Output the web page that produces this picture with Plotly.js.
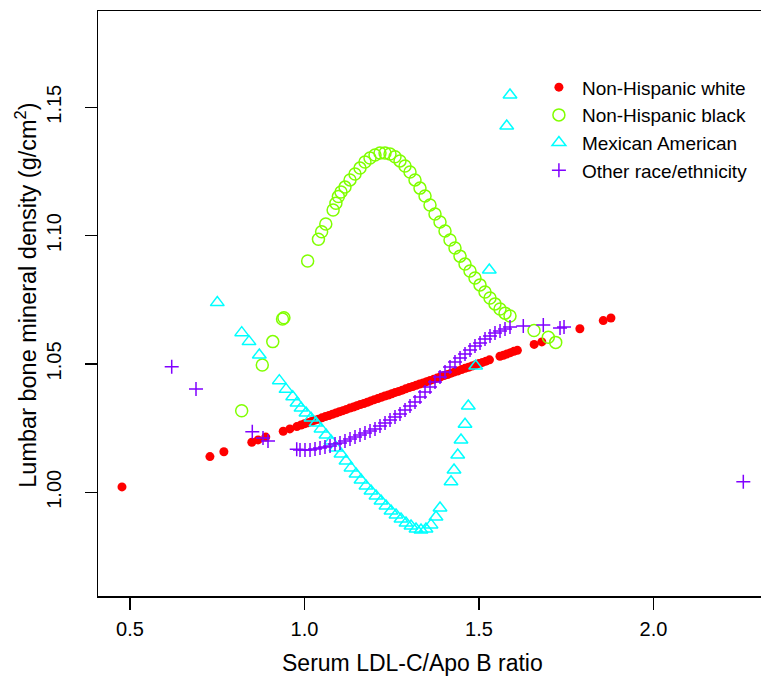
<!DOCTYPE html>
<html>
<head>
<meta charset="utf-8">
<script src="https://cdn.plot.ly/plotly-3.0.1.min.js"></script>
<style>html,body{margin:0;padding:0;background:#fff;}#chart{width:761px;height:678px;}</style>
</head>
<body>
<div id="chart"></div>
<script>
// Non-Hispanic white
const whiteX = [0.477, 0.729, 0.769, 0.849, 0.867, 0.889, 0.939, 0.958, 0.978,
  0.99, 1.00, 1.01, 1.02, 1.03, 1.04, 1.05, 1.06, 1.07, 1.08, 1.09, 1.10, 1.11, 1.12, 1.13, 1.14, 1.15,
  1.16, 1.17, 1.18, 1.19, 1.20, 1.21, 1.22, 1.23, 1.24, 1.25, 1.26, 1.27, 1.28, 1.29, 1.30, 1.31, 1.32,
  1.33, 1.34, 1.35, 1.36, 1.37, 1.38, 1.39, 1.40, 1.41, 1.42, 1.43, 1.44, 1.45, 1.46, 1.47, 1.48, 1.49,
  1.50, 1.51, 1.52, 1.53, 1.56, 1.57, 1.58, 1.59, 1.60, 1.61,
  1.658, 1.680, 1.789, 1.856, 1.878];
const whiteY = [1.0021, 1.0139, 1.0158, 1.0195, 1.0204, 1.0215, 1.0238, 1.0247, 1.0256,
  1.0262, 1.0267, 1.0271, 1.0276, 1.0281, 1.0285, 1.0290, 1.0295, 1.0299, 1.0304, 1.0309, 1.0314, 1.0318, 1.0323, 1.0328, 1.0332, 1.0337,
  1.0342, 1.0346, 1.0351, 1.0356, 1.0361, 1.0365, 1.0370, 1.0375, 1.0379, 1.0384, 1.0389, 1.0393, 1.0398, 1.0403, 1.0408, 1.0412, 1.0417,
  1.0422, 1.0426, 1.0431, 1.0436, 1.0440, 1.0445, 1.0450, 1.0455, 1.0459, 1.0464, 1.0469, 1.0473, 1.0478, 1.0483, 1.0487, 1.0492, 1.0497,
  1.0502, 1.0506, 1.0511, 1.0516, 1.0530, 1.0534, 1.0539, 1.0544, 1.0549, 1.0553,
  1.0576, 1.0586, 1.0637, 1.0669, 1.0679];

// Non-Hispanic black
const blackX = [0.820, 0.879, 0.909, 0.937, 0.941, 1.009, 1.040, 1.049, 1.061, 1.082, 1.090, 1.097, 1.1046,
  1.1160, 1.1304, 1.1447, 1.1590, 1.1733, 1.1877, 1.2020, 1.2163, 1.2307, 1.2450, 1.2593, 1.2736, 1.2880,
  1.3023, 1.3166, 1.3309, 1.3453, 1.3596, 1.3739, 1.3883, 1.4026, 1.4169, 1.4312, 1.4456, 1.4599, 1.4742,
  1.4885, 1.5029, 1.5172, 1.5315, 1.5458, 1.5602, 1.5745, 1.5888,
  1.6576, 1.6986, 1.7198];
const blackY = [1.0318, 1.0496, 1.0587, 1.0675, 1.0680, 1.0901, 1.0986, 1.1015, 1.1045, 1.1100, 1.1126, 1.1152, 1.1170,
  1.1189, 1.1217, 1.1240, 1.1263, 1.1287, 1.1302, 1.1314, 1.1322, 1.1322, 1.1318, 1.1307, 1.1291, 1.1271,
  1.1248, 1.1217, 1.1185, 1.1154, 1.1119, 1.1084, 1.1053, 1.1018, 1.0983, 1.0952, 1.0920, 1.0889, 1.0862,
  1.0835, 1.0808, 1.0780, 1.0757, 1.0734, 1.0714, 1.0698, 1.0687,
  1.0630, 1.0604, 1.0584];

// Mexican American
const mexX = [0.7501, 0.8201, 0.8410, 0.8705, 0.9278, 0.9470, 0.9662,
  0.9785, 0.9900, 1.0043, 1.0186, 1.0330, 1.0473, 1.0616, 1.0759, 1.0903, 1.1046, 1.1189, 1.1332, 1.1476,
  1.1619, 1.1762, 1.1905, 1.2049, 1.2192, 1.2335, 1.2479, 1.2622, 1.2765, 1.2908, 1.3052, 1.3195, 1.3338,
  1.3481, 1.3625, 1.3768, 1.3883,
  1.4198, 1.4284, 1.4390, 1.4484, 1.4599, 1.4693, 1.4905, 1.5295, 1.5794, 1.5888];
const mexY = [1.0739, 1.0622, 1.0587, 1.0535, 1.0435, 1.0401, 1.0372,
  1.0348, 1.0328, 1.0309, 1.0289, 1.0270, 1.0247, 1.0223, 1.0200, 1.0173, 1.0149, 1.0122, 1.0095, 1.0071,
  1.0048, 1.0025, 1.0005, 0.9986, 0.9966, 0.9947, 0.9927, 0.9912, 0.9896, 0.9880, 0.9869, 0.9857, 0.9853,
  0.9857, 0.9873, 0.9904, 0.9939,
  1.0041, 1.0087, 1.0145, 1.0204, 1.0265, 1.0336, 1.0492, 1.0866, 1.1427, 1.1548];

// Other race/ethnicity
const otherX = [0.6195, 0.6891, 0.8504, 0.8811, 0.8954, 0.9777,
  0.9871, 1.0014, 1.0158, 1.0301, 1.0444, 1.0587, 1.0731, 1.0874, 1.1017, 1.1160, 1.1304, 1.1447, 1.1590,
  1.1733, 1.1877, 1.2020, 1.2163, 1.2307, 1.2450, 1.2593, 1.2736, 1.2880, 1.3023, 1.3166, 1.3309, 1.3453,
  1.3596, 1.3739, 1.3883, 1.4026, 1.4169, 1.4312, 1.4456, 1.4599, 1.4742, 1.4885, 1.5029, 1.5172, 1.5315,
  1.5458, 1.5602, 1.5745, 1.5888,
  1.6269, 1.6842, 1.7321, 1.7436, 2.2573];
const otherY = [1.0489, 1.0402, 1.0236, 1.0212, 1.0200, 1.0168,
  1.0165, 1.0165, 1.0165, 1.0169, 1.0173, 1.0176, 1.0180, 1.0188, 1.0192, 1.0200, 1.0208, 1.0215, 1.0223,
  1.0231, 1.0239, 1.0247, 1.0258, 1.0270, 1.0282, 1.0293, 1.0305, 1.0321, 1.0336, 1.0352, 1.0371, 1.0391,
  1.0410, 1.0430, 1.0449, 1.0469, 1.0488, 1.0508, 1.0523, 1.0539, 1.0554, 1.0570, 1.0582, 1.0597, 1.0609,
  1.0621, 1.0628, 1.0636, 1.0644,
  1.0648, 1.0652, 1.0640, 1.0644, 1.0041];

const seriesNames = ["Non-Hispanic white", "Non-Hispanic black", "Mexican American", "Other race/ethnicity"];
const xTicks = [0.5, 1.0, 1.5, 2.0];
const yTicks = [1.00, 1.05, 1.10, 1.15];
const xTitle = "Serum LDL-C/Apo B ratio";
const yTitle = "Lumbar bone mineral density (g/cm<sup>2</sup>)";

const FONT = "Liberation Sans, Arial, Helvetica, sans-serif";

const traces = [
  {x: whiteX, y: whiteY, name: seriesNames[0], type: "scatter", mode: "markers",
   marker: {symbol: "circle", size: 9, color: "#FF0000", line: {width: 0}}},
  {x: blackX, y: blackY, name: seriesNames[1], type: "scatter", mode: "markers",
   marker: {symbol: "circle-open", size: 12, color: "#80FF00", line: {width: 1.5, color: "#80FF00"}}},
  {x: mexX, y: mexY, name: seriesNames[2], type: "scatter", mode: "markers",
   marker: {symbol: "triangle-up-open", size: 12, color: "#00FFFF", line: {width: 1.5, color: "#00FFFF"}}},
  {x: otherX, y: otherY, name: seriesNames[3], type: "scatter", mode: "markers",
   marker: {symbol: "cross-thin-open", size: 10, color: "#8000FF", line: {width: 1.5, color: "#8000FF"}}}
];

const layout = {
  width: 761, height: 678,
  margin: {l: 98, r: 0, t: 11, b: 82, pad: 0},
  paper_bgcolor: "#ffffff", plot_bgcolor: "#ffffff",
  font: {family: FONT, color: "#000000", size: 20},
  showlegend: true,
  legend: {x: 0.6605, xanchor: "left", y: 0.902, yanchor: "top", itemwidth: 36,
    bgcolor: "rgba(0,0,0,0)", borderwidth: 0, font: {family: FONT, size: 19, color: "#000"}},
  xaxis: {
    range: [0.4083, 2.308], tickvals: xTicks, tickformat: ".1f",
    ticks: "outside", ticklen: 12, tickwidth: 1.5, tickcolor: "#000",
    showline: true, linewidth: 1.5, linecolor: "#000", mirror: true,
    showgrid: false, zeroline: false, ticklabelstandoff: 2,
    tickfont: {family: FONT, size: 20, color: "#000"}
  },
  yaxis: {
    range: [0.9596, 1.1875], tickvals: yTicks, tickformat: ".2f", tickangle: -90,
    ticks: "outside", ticklen: 12, tickwidth: 1.5, tickcolor: "#000",
    showline: true, linewidth: 1.5, linecolor: "#000", mirror: false,
    showgrid: false, zeroline: false, ticklabelstandoff: 16,
    tickfont: {family: FONT, size: 20, color: "#000"}
  },
  annotations: [
    {text: xTitle, xref: "paper", yref: "paper", x: 0.4751, y: -0.1145,
     xanchor: "center", yanchor: "middle", showarrow: false,
     font: {family: FONT, size: 23, color: "#000"}},
    {text: yTitle, xref: "paper", yref: "paper", x: -0.1086, y: 0.515, textangle: -90,
     xanchor: "center", yanchor: "middle", showarrow: false,
     font: {family: FONT, size: 23.5, color: "#000"}}
  ]
};

Plotly.newPlot("chart", traces, layout, {displayModeBar: false, staticPlot: true});
</script>
</body>
</html>
